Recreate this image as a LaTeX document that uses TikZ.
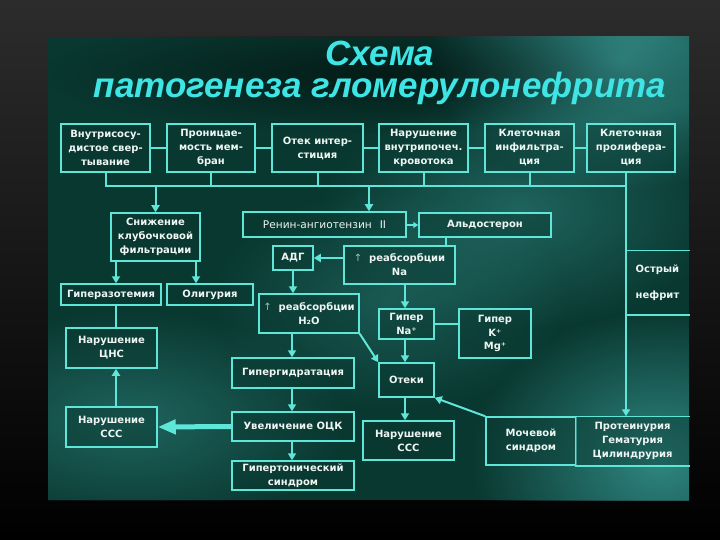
\documentclass[tikz,border=0pt]{standalone}
\usepackage{fontspec}
\setmainfont{DejaVu Sans}
\newfontfamily\titlefont{Liberation Sans}
\usetikzlibrary{arrows.meta,calc,fadings}
\definecolor{panel}{HTML}{093830}
\definecolor{glow}{HTML}{3A9A96}
\definecolor{outertop}{HTML}{2C2C2C}
\definecolor{cyanline}{HTML}{5EE6D8}
\definecolor{titlecyan}{HTML}{3FE4E4}
\definecolor{boxtext}{HTML}{EEF5F3}
\definecolor{uparrow}{HTML}{A8BDBA}
\tikzfading[name=softglow, inner color=transparent!0, outer color=transparent!100]
\tikzset{
  box/.style={draw=cyanline, line width=1.5pt, fill=panel, fill opacity=0.45,
    text opacity=1, text=boxtext, font=\fontsize{10}{14}\selectfont\bfseries,
    align=center, inner sep=1pt},
  openbox/.style={box, draw=none},
  conn/.style={draw=cyanline, line width=2pt},
  arr/.style={conn, -{Triangle[width=8pt,length=7pt]}},
  bigarr/.style={draw=cyanline, line width=5pt, -{Triangle[width=14pt,length=18pt]}},
  titletext/.style={font=\titlefont\bfseries\itshape\fontsize{35}{32}\selectfont, align=center, text=titlecyan, inner sep=0pt},
  glowblob/.style={fill=glow, path fading=softglow},
  shadowblob/.style={fill=black, path fading=softglow},
}
\newcommand{\upar}{{\mdseries\color{uparrow}↑}\hspace{7pt}}
\begin{document}
\begin{tikzpicture}[x=1pt,y=-1pt]
\useasboundingbox (0,0) rectangle (720,540);
% outer background
\shade[top color=outertop, bottom color=black] (0,0) rectangle (720,540);
% panel
\begin{scope}
  \clip (48,37) rectangle (689,500);
  \fill[panel] (48,37) rectangle (689,500);
  \fill[glowblob, fill opacity=0.9] (620,60) ellipse (190 and 130);
  \fill[glowblob, fill opacity=0.45] (520,210) ellipse (200 and 120);
  \fill[glowblob, fill opacity=0.35] (390,300) ellipse (180 and 110);
  \fill[glowblob, fill opacity=0.8] (660,460) ellipse (190 and 150);
  \fill[glowblob, fill opacity=0.45] (130,420) ellipse (220 and 110);
  % soft dark halo behind the title
  \fill[shadowblob, fill opacity=0.5] (382,74) ellipse (340 and 60);
\end{scope}
% title
\node[titletext, anchor=base] (title) at (380,98) {Схема\\патогенеза гломерулонефрита};

% row 1
\node[box, minimum width=89pt, minimum height=48pt] (b1) at (105.5,148) {Внутрисосу-\\дистое свер-\\тывание};
\node[box, minimum width=88pt, minimum height=48pt] (b2) at (211,148) {Проницае-\\мость мем-\\бран};
\node[box, minimum width=91pt, minimum height=48pt] (b3) at (317.5,148) {Отек интер-\\стиция};
\node[box, minimum width=89pt, minimum height=48pt] (b4) at (423.5,148) {Нарушение\\внутрипочеч.\\кровотока};
\node[box, minimum width=89pt, minimum height=48pt] (b5) at (529.5,148) {Клеточная\\инфильтра-\\ция};
\node[box, minimum width=88pt, minimum height=48pt] (b6) at (631,148) {Клеточная\\пролифера-\\ция};

% row 2
\node[box, minimum width=89pt, minimum height=48pt] (sn) at (155.5,237) {Снижение\\клубочковой\\фильтрации};
\node[box, minimum width=163pt, minimum height=25pt, font=\fontsize{10.6}{14}\selectfont] (renin) at (324.5,224.5) {Ренин-ангиотензин\hspace{8pt}II};
\node[box, minimum width=132pt, minimum height=24pt] (ald) at (485,225) {Альдостерон};

% row 3
\node[box, minimum width=40pt, minimum height=24pt] (adg) at (293,258) {АДГ};
\node[box, minimum width=111pt, minimum height=38pt] (rna) at (399.5,265) {\upar реабсорбции\\Na};

% row 4
\node[box, minimum width=100pt, minimum height=21pt] (hyp) at (111,294.5) {Гиперазотемия};
\node[box, minimum width=86pt, minimum height=21pt] (olig) at (210,294.5) {Олигурия};
\node[box, minimum width=100pt, minimum height=39pt] (rh2o) at (309,313.5) {\makebox[94pt]{\upar реабсорбции}\\H₂O};
\node[box, minimum width=55pt, minimum height=30pt] (gna) at (406.5,324) {Гипер\\Na⁺};
\node[box, minimum width=72pt, minimum height=49pt, font=\fontsize{10}{13.5}\selectfont\bfseries] (gk) at (495,333.5) {Гипер\\K⁺\\Mg⁺};

% row 5
\node[box, minimum width=91pt, minimum height=40pt] (cns) at (111.5,348) {Нарушение\\ЦНС};
\node[box, minimum width=122pt, minimum height=30pt] (hgd) at (293,373) {Гипергидратация};
\node[box, minimum width=55pt, minimum height=34pt] (oteki) at (406.5,380) {Отеки};

% row 6
\node[box, minimum width=91pt, minimum height=40pt] (sss1) at (111.5,427) {Нарушение\\ССС};
\node[box, minimum width=122pt, minimum height=29pt] (ock) at (293,426.5) {Увеличение ОЦК};
\node[box, minimum width=122pt, minimum height=29pt] (gts) at (293,475.5) {Гипертонический\\синдром};
\node[box, minimum width=91pt, minimum height=39pt] (sss2) at (408.5,440.5) {Нарушение\\ССС};
\node[box, minimum width=90pt, minimum height=48pt] (moch) at (531,441) {Мочевой\\синдром};
\node[openbox, minimum width=113pt, minimum height=48pt] (prot) at (632.5,441) {Протеинурия\\Гематурия\\Цилиндрурия};
\node[openbox, fill=none, minimum width=63pt, minimum height=63pt, align=left] (ostr) at (657.5,282.5) {Острый\\[12pt]нефрит};

% open box borders
\draw[draw=cyanline, line width=1.5pt] (prot.north east) -- (prot.north west) -- (prot.south west) -- (prot.south east);
\draw[draw=cyanline, line width=1.5pt] (ostr.north west) -- (ostr.north east);
\draw[draw=cyanline, line width=1.5pt] (ostr.south west) -- (ostr.south east);

% row 1 links
\draw[conn] (b1) -- (b2);
\draw[conn] (b2) -- (b3);
\draw[conn] (b3) -- (b4);
\draw[conn] (b4) -- (b5);
\draw[conn] (b5) -- (b6);

% bus
\coordinate (busy) at (0,186);
\coordinate (vx) at (626,0);
\coordinate (rx) at (369,0);
\draw[conn] (b1.south) -- (b1.south |- busy) -- (vx |- busy);
\draw[conn] (b2.south) -- (b2.south |- busy);
\draw[conn] (b3.south) -- (b3.south |- busy);
\draw[conn] (b4.south) -- (b4.south |- busy);
\draw[conn] (b5.south) -- (b5.south |- busy);
\draw[arr] (vx |- b6.south) -- (vx |- prot.north);
\draw[arr] (sn.north |- busy) -- (sn.north);
\draw[arr] (rx |- busy) -- (rx |- renin.north);

% middle links
\draw[conn, -{Triangle[width=6pt,length=5pt]}] (renin.east |- ald.west) -- (ald.west);
\coordinate (ax) at (446,0);
\draw[conn] (ax |- ald.south) -- (ax |- rna.north);
\draw[arr] (rna.west |- adg.east) -- (adg.east);
\draw[arr] (adg.south) -- (adg.south |- rh2o.north);
\coordinate (s1) at (116,0);
\coordinate (s2) at (196,0);
\draw[arr] (s1 |- sn.south) -- (s1 |- hyp.north);
\draw[arr] (s2 |- sn.south) -- (s2 |- olig.north);
\draw[conn] (s1 |- hyp.south) -- (s1 |- cns.north);
\draw[arr] (s1 |- sss1.north) -- (s1 |- cns.south);
\coordinate (nx) at (405,0);
\draw[arr] (nx |- rna.south) -- (nx |- gna.north);
\draw[conn] (gna.east) -- (gna.east -| gk.west);
\draw[arr] (nx |- gna.south) -- (nx |- oteki.north);
\draw[arr] (nx |- oteki.south) -- (nx |- sss2.north);
\draw[arr] (rh2o.south east) -- (oteki.north west);
\draw[arr] (moch.north west) -- (oteki.south east);
\coordinate (hx) at (292,0);
\draw[arr] (hx |- rh2o.south) -- (hx |- hgd.north);
\draw[arr] (hx |- hgd.south) -- (hx |- ock.north);
\draw[arr] (hx |- ock.south) -- (hx |- gts.north);
\draw[bigarr] (ock.west) -- (sss1.east);
\end{tikzpicture}
\end{document}
